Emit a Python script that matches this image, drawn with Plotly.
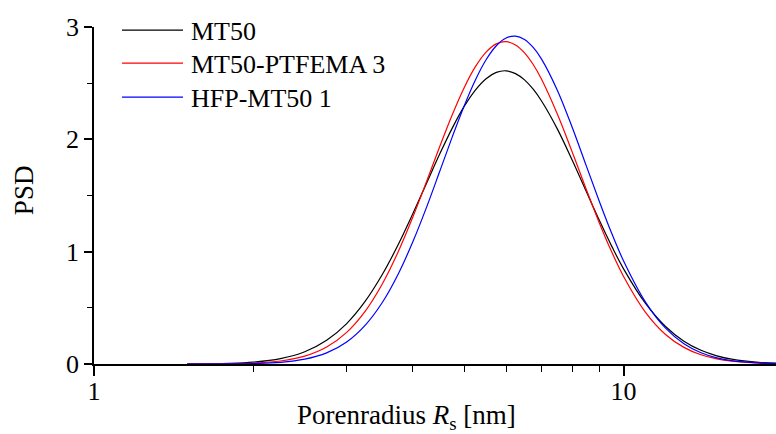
import plotly.graph_objects as go
import numpy as np

radius_nm = [1.5, 1.8, 2, 2.25, 2.5, 2.75, 3, 3.25, 3.5, 3.75, 4, 4.25, 4.5, 4.75, 5, 5.25,
             5.5, 5.75, 6, 6.25, 6.5, 6.75, 7, 7.5, 8, 8.5, 9, 9.5, 10, 11, 12, 13, 14, 15,
             16, 18, 20]

psd_mt50 = [0.001, 0.006, 0.017, 0.048, 0.109, 0.211, 0.360, 0.557, 0.794, 1.059, 1.338,
            1.614, 1.873, 2.102, 2.293, 2.439, 2.540, 2.596, 2.610, 2.585, 2.529, 2.446,
            2.341, 2.091, 1.814, 1.537, 1.279, 1.047, 0.847, 0.539, 0.334, 0.203, 0.122,
            0.073, 0.043, 0.015, 0.006]

psd_ptfema = [0.000, 0.003, 0.008, 0.027, 0.070, 0.151, 0.282, 0.469, 0.710, 0.995, 1.308,
              1.630, 1.940, 2.221, 2.460, 2.647, 2.777, 2.850, 2.870, 2.840, 2.770, 2.666,
              2.535, 2.223, 1.886, 1.556, 1.256, 0.996, 0.779, 0.460, 0.263, 0.148, 0.082,
              0.045, 0.025, 0.007, 0.002]

psd_hfp = [0.000, 0.001, 0.004, 0.015, 0.043, 0.099, 0.196, 0.344, 0.545, 0.797, 1.088,
           1.401, 1.720, 2.024, 2.297, 2.528, 2.708, 2.833, 2.902, 2.919, 2.889, 2.818,
           2.714, 2.435, 2.105, 1.766, 1.447, 1.161, 0.917, 0.551, 0.319, 0.180, 0.100,
           0.055, 0.030, 0.009, 0.003]

series_names = ["MT50", "MT50-PTFEMA 3", "HFP-MT50 1"]
series_colors = ["#000000", "#ff0000", "#0000ff"]

x_title = "Porenradius <i>R</i><sub>s</sub> [nm]"
y_title = "PSD"

FONT = "Liberation Serif, Times New Roman, serif"

fig = go.Figure()
for name, vals, col in zip(series_names, [psd_mt50, psd_ptfema, psd_hfp], series_colors):
    fig.add_trace(go.Scatter(x=radius_nm, y=vals, mode="lines", name=name,
                             showlegend=False,
                             line=dict(color=col, width=1.2, shape="spline", smoothing=1.0)))

# custom legend (long line samples as in the reference)
legend_rows_y = [0.991, 0.893, 0.792]
for name, col, ly in zip(series_names, series_colors, legend_rows_y):
    fig.add_shape(type="line", xref="paper", yref="paper",
                  x0=0.041, x1=0.1305, y0=ly, y1=ly,
                  line=dict(color=col, width=1.2))
    fig.add_annotation(xref="paper", yref="paper", x=0.139, y=ly - 0.004,
                       xanchor="left", yanchor="middle", showarrow=False,
                       text=name, font=dict(size=26, family=FONT, color="black"))

# axis titles
fig.add_annotation(xref="paper", yref="paper", x=0.4575, y=-0.157,
                   xanchor="center", yanchor="middle", showarrow=False,
                   text=x_title, font=dict(size=27, family=FONT, color="black"))
fig.add_annotation(xref="paper", yref="paper", x=-0.1026, y=0.516,
                   xanchor="center", yanchor="middle", showarrow=False, textangle=-90,
                   text=y_title, font=dict(size=27, family=FONT, color="black"))

fig.update_layout(
    width=776, height=434,
    margin=dict(l=94, r=0, t=27, b=70, autoexpand=False),
    paper_bgcolor="white", plot_bgcolor="white",
    font=dict(family=FONT, size=26, color="black"),
    showlegend=False,
)

fig.update_xaxes(
    type="log", range=[0, np.log10(19.4)], automargin=False,
    showline=True, linecolor="black", linewidth=1.5,
    showgrid=False, zeroline=False,
    ticks="outside", ticklen=10, tickwidth=1.5, tickcolor="black",
    tickvals=[1, 10], ticktext=["1", "10"], ticklabelstandoff=-7,
    tickfont=dict(size=26, family=FONT),
    minor=dict(ticks="outside", ticklen=6, tickwidth=1, tickcolor="black",
               tickvals=[2, 3, 4, 5, 6, 7, 8, 9, 20], showgrid=False),
)

fig.update_yaxes(
    range=[0, 3], automargin=False,
    showline=True, linecolor="black", linewidth=1.5,
    showgrid=False, zeroline=False,
    ticks="outside", ticklen=8, tickwidth=1.5, tickcolor="black",
    tickvals=[0, 1, 2, 3],
    tickfont=dict(size=26, family=FONT),
    minor=dict(ticks="outside", ticklen=5, tickwidth=1, tickcolor="black",
               tickvals=[0.5, 1.5, 2.5], showgrid=False),
)

fig.write_html("out.html")
